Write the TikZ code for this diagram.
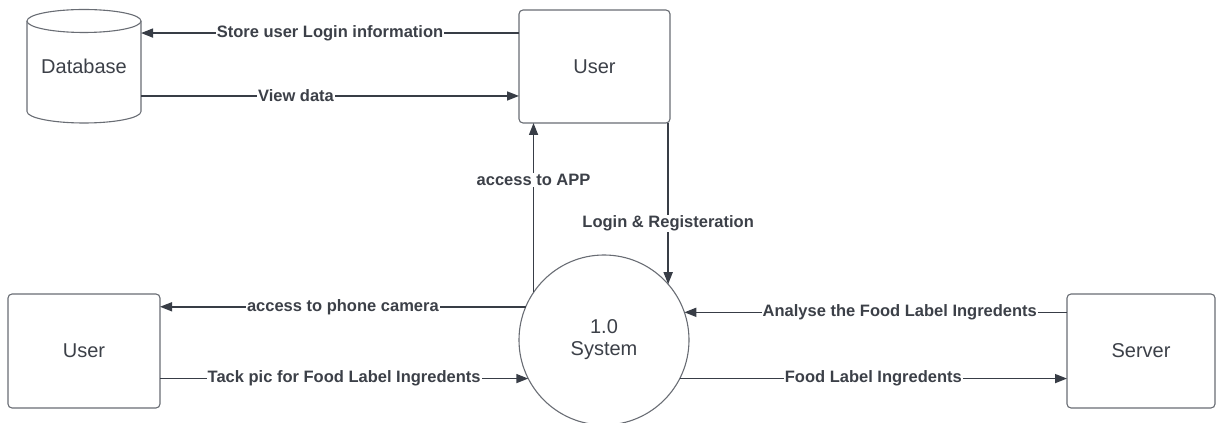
\documentclass[tikz,border=0pt]{standalone}
\usepackage{fontspec}
\setmainfont{Liberation Sans}
\usetikzlibrary{arrows.meta,calc}
\definecolor{lc}{RGB}{56,61,70}
\definecolor{bc}{RGB}{105,109,116}
\definecolor{tc}{RGB}{60,64,72}
\tikzset{
  box/.style={draw=bc,line width=1.1pt,rounded corners=4pt,fill=white,outer sep=0pt,inner sep=0pt,
    text=tc,font=\fontsize{20}{24}\selectfont},
  proc/.style={circle,draw=bc,line width=1.1pt,fill=white,outer sep=0pt,inner sep=0pt,
    minimum size=170pt,align=center,text=tc,font=\fontsize{20}{24}\selectfont},
  flow/.style={draw=lc,line width=1.6pt,-{Triangle[length=12pt,width=9pt]}},
  lbl/.style={fill=white,inner sep=1pt,text=tc,font=\fontsize{16.5}{19}\selectfont\bfseries},
  cyl/.style={draw=bc,line width=1.1pt,fill=white}
}
\begin{document}
\begin{tikzpicture}[x=1pt,y=1pt]
\useasboundingbox (0,0) rectangle (1216,423);
% database cylinder
\draw[cyl] (27,402) -- (27,311.5) arc[start angle=180,end angle=360,x radius=57pt,y radius=11.5pt] -- (141,402);
\draw[cyl] (84,402) ellipse[x radius=57pt,y radius=11.5pt];
\node[outer sep=0pt,inner sep=0pt,minimum width=114pt,minimum height=114pt,text=tc,font=\fontsize{20}{24}\selectfont] (db) at (84,357) {Database};
% nodes
\node[box,minimum width=151pt,minimum height=113pt] (utop) at (594.5,356.5) {User};
\node[box,minimum width=152pt,minimum height=114pt] (uleft) at (84,72) {User};
\node[box,minimum width=148pt,minimum height=114pt] (server) at (1141,72) {Server};
\node[proc] (sys) at (604,83) {1.0\\[-2pt]System};
% helper coordinates on the top user box
\coordinate (st) at ($(utop.north west)!0.204!(utop.south west)$);
\coordinate (vd) at ($(utop.north west)!0.761!(utop.south west)$);
% connectors
\draw[flow] (st) -- node[lbl,pos=0.5]{Store user Login information} (st -| db.east);
\draw[flow] (db.east |- vd) -- node[lbl,pos=0.41]{View data} (vd);
\draw[flow] (sys.146.7) -- node[lbl,pos=0.665]{access to APP} (sys.146.7 |- utop.south);
\draw[flow] (utop.south -| sys.41.7) -- node[lbl,pos=0.625]{Login \& Registeration} (sys.41.7);
\draw[flow] (sys.157.1) -- node[lbl,pos=0.5]{access to phone camera} (sys.157.1 -| uleft.east);
\draw[flow] (uleft.east |- sys.207.4) -- node[lbl,pos=0.5]{Tack pic for Food Label Ingredents} (sys.207.4);
\draw[flow] (server.west |- sys.19.2) -- node[lbl,pos=0.437]{Analyse the Food Label Ingredents} (sys.19.2);
\draw[flow] (sys.333.2) -- node[lbl,pos=0.5]{Food Label Ingredents} (sys.333.2 -| server.west);
\end{tikzpicture}
\end{document}
